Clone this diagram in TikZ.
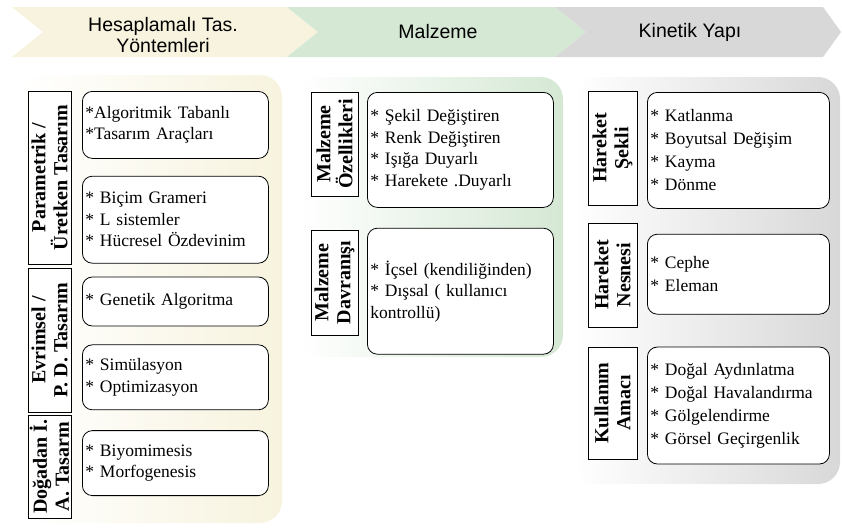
\documentclass[tikz,border=0pt]{standalone}
\usepackage{fontspec}
\setmainfont{Liberation Serif}
\newfontfamily\headfont{Liberation Sans}
\usepackage{tikz}
\usetikzlibrary{positioning}
\definecolor{tasA}{RGB}{247,243,222}
\definecolor{tasB}{RGB}{213,232,212}
\definecolor{tasC}{RGB}{216,216,216}
\tikzset{
	panel/.style={rounded corners=22pt, left color=white, right color=#1},
	head/.style={font=\headfont\fontsize{19.5}{20.5}\selectfont, align=center, inner sep=0pt},
	cat/.style={draw, fill=white, line width=0.8pt, rotate=90, align=center, inner sep=0pt,
		font=\bfseries\fontsize{20}{22}\selectfont},
	item/.style={draw, fill=white, line width=0.8pt, rounded corners=10pt, align=left,
		inner xsep=3pt, inner ysep=2pt, text width=#1,
		font=\fontsize{17.5}{21.5}\selectfont},
	item/.default=180pt
}

\begin{document}
\begin{tikzpicture}[x=1pt, y=-1pt]
	\useasboundingbox (0,0) rectangle (842,528);
	% header arrows
	\foreach \xa/\xb/\tip/\col in {12/287/318/tasA, 287/555/586/tasB, 555/823/841/tasC}
		\fill[\col] (\xa,7) -- (\xb,7) -- (\tip,32) -- (\xb,57) -- (\xa,57) -- (\xa+31,32) -- cycle;
	\node[head] (H1) at (163,35) {Hesaplamalı Tas.\\Yöntemleri};
	\node[head] (H2) at (438,32) {Malzeme};
	\node[head] (H3) at (690,32) {Kinetik Yapı};
	% panels
	\shade[panel=tasA] (20,75) rectangle (282,523);
	\shade[panel=tasB] (298,77) rectangle (563,357);
	\shade[panel=tasC] (574,77) rectangle (840,484);
	% Hesaplamali
	\node[cat, minimum width=173pt, minimum height=43pt] (P) at (49.5,177.5) {Parametrik /\\Üretken Tasarım};
	\node[cat, minimum width=144pt, minimum height=43pt] (E) at (49.5,340) {Evrimsel /\\P. D. Tasarım};
	\node[cat, minimum width=103pt, minimum height=43pt] (D) at (49.5,466.5) {Doğadan İ.\\A. Tasarm};
	\node[item, minimum height=67pt, anchor=north west] (P1) at (82,91) {*Algoritmik Tabanlı\\{}*Tasarım Araçları};
	\node[item, minimum height=87pt, below=17pt of P1] (P2) {* Biçim Grameri\\{}* L sistemler\\{}* Hücresel Özdevinim};
	\node[item, minimum height=49pt, below=13pt of P2] (E1) {* Genetik Algoritma};
	\node[item, minimum height=65pt, below=18pt of E1] (E2) {* Simülasyon\\{}* Optimizasyon};
	\node[item, minimum height=65pt, below=20pt of E2] (D1) {* Biyomimesis\\{}* Morfogenesis};
	% Malzeme
	\node[cat, minimum width=104pt, minimum height=47pt] (MO) at (334.5,144) {Malzeme\\Özellikleri};
	\node[cat, minimum width=105pt, minimum height=47pt] (MD) at (334.5,282.5) {Malzeme\\Davranışı};
	\node[item, minimum height=115pt, anchor=north west] (MO1) at (367,92) {* Şekil Değiştiren\\{}* Renk Değiştiren\\{}* Işığa Duyarlı\\{}* Harekete .Duyarlı};
	\node[item, minimum height=126pt, below=20pt of MO1] (MD1) {* İçsel (kendiliğinden)\\{}* Dışsal ( kullanıcı\\kontrollü)};
	% Kinetik
	\node[cat, minimum width=114pt, minimum height=49pt] (KS) at (612.5,148) {Hareket\\Şekli};
	\node[cat, minimum width=104pt, minimum height=49pt] (KN) at (612.5,275) {Hareket\\Nesnesi};
	\node[cat, minimum width=112pt, minimum height=49pt] (KA) at (612.5,403) {Kullanım\\Amacı};
	\node[item=176pt, minimum height=116pt, anchor=north west, font=\fontsize{17.5}{23}\selectfont] (KS1) at (647,92) {* Katlanma\\{}* Boyutsal Değişim\\{}* Kayma\\{}* Dönme};
	\node[item=176pt, minimum height=80pt, below=25pt of KS1, font=\fontsize{17.5}{23}\selectfont] (KN1) {* Cephe\\{}* Eleman};
	\node[item=176pt, minimum height=117pt, below=32pt of KN1, font=\fontsize{17.5}{23}\selectfont] (KA1) {* Doğal Aydınlatma\\{}* Doğal Havalandırma\\{}* Gölgelendirme\\{}* Görsel Geçirgenlik};
\end{tikzpicture}
\end{document}
